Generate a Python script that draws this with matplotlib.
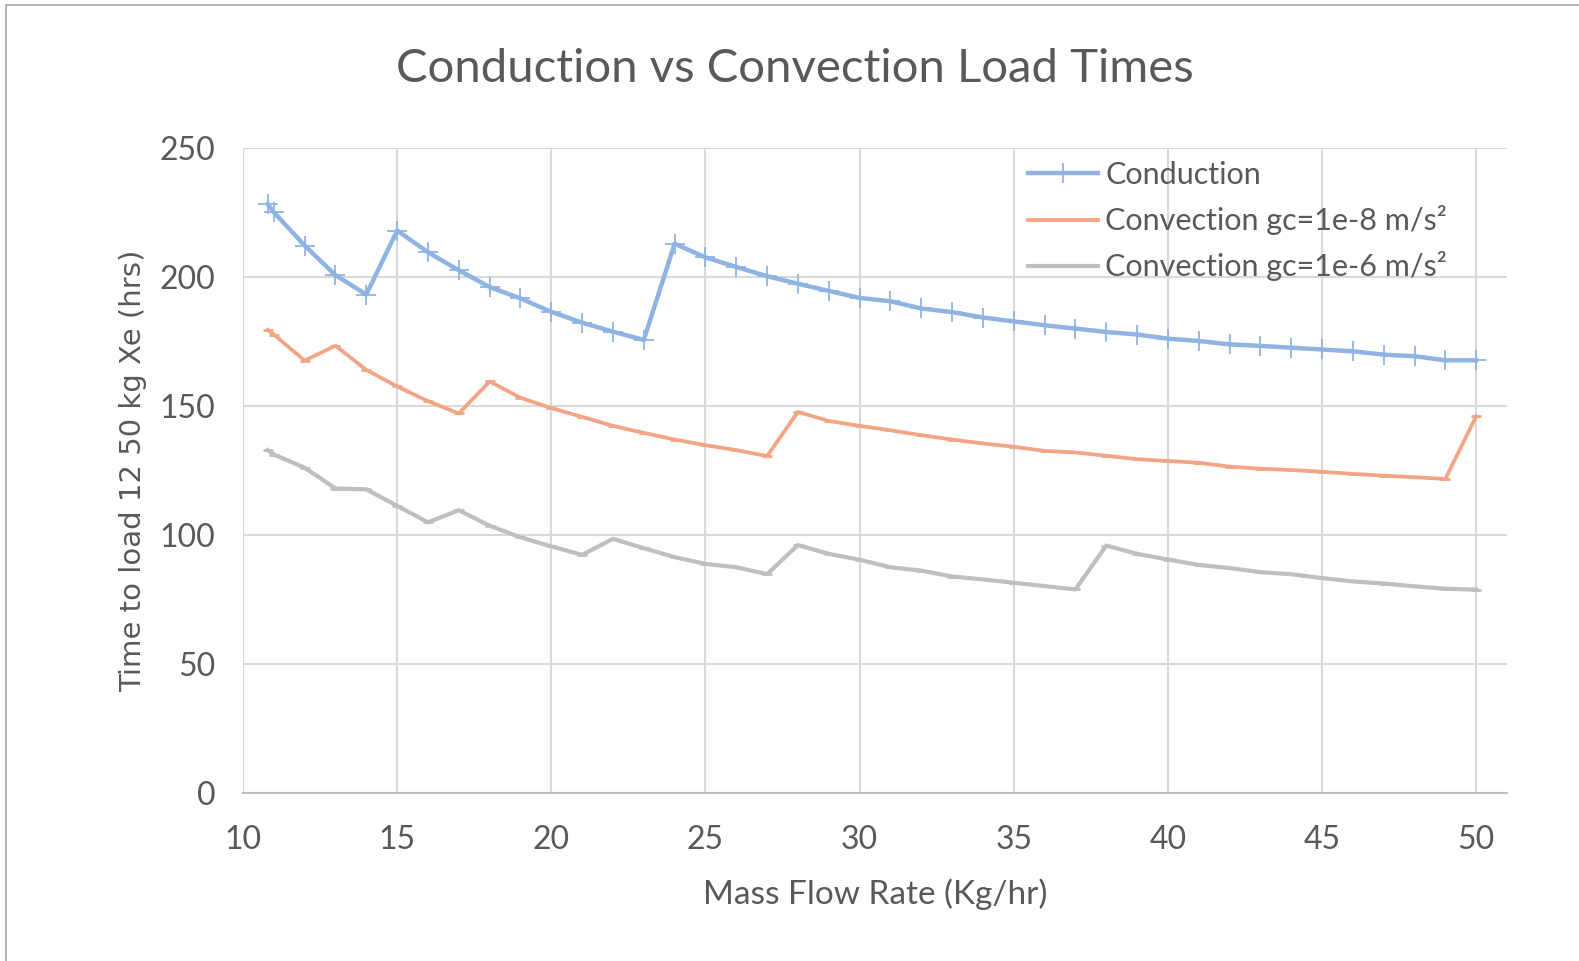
import matplotlib
matplotlib.use("Agg")
import matplotlib.pyplot as plt
from matplotlib.patches import Rectangle

flow = [10.8] + list(range(11, 51))

conduction = [228.3, 225.1, 212.2, 200.7, 193.2, 218.0, 209.6, 202.6, 196.1, 191.7,
              186.5, 182.3, 178.8, 175.6, 212.9, 207.6, 203.9, 200.3, 197.4, 194.6,
              191.9, 190.6, 187.8, 186.4, 184.3, 182.8, 181.3, 180.0, 178.7, 177.7,
              176.1, 175.2, 173.9, 173.3, 172.6, 171.9, 171.2, 169.9, 169.3, 167.7, 167.7]

conv_1e8 = [179.5, 177.7, 167.6, 173.4, 164.0, 157.6, 151.9, 147.1, 159.5, 153.2,
            149.2, 145.8, 142.3, 139.6, 137.0, 134.8, 132.9, 130.6, 147.7, 144.2,
            142.3, 140.6, 138.7, 137.0, 135.5, 134.2, 132.6, 132.0, 130.7, 129.4,
            128.7, 128.0, 126.5, 125.7, 125.2, 124.5, 123.7, 123.0, 122.4, 121.7, 146.0]

conv_1e6 = [132.9, 131.2, 126.1, 118.0, 117.7, 111.3, 104.9, 109.6, 103.6, 99.1,
            95.6, 92.3, 98.5, 94.9, 91.4, 88.8, 87.5, 84.8, 96.1, 92.7,
            90.4, 87.5, 86.2, 83.9, 82.8, 81.5, 80.2, 78.9, 95.9, 92.7,
            90.5, 88.4, 87.2, 85.6, 84.8, 83.3, 82.0, 81.2, 80.1, 79.2, 78.8]

labels = ["Conduction", "Convection gc=1e-8 m/s\u00b2", "Convection gc=1e-6 m/s\u00b2"]
x_ticks = [10, 15, 20, 25, 30, 35, 40, 45, 50]
y_ticks = [0, 50, 100, 150, 200, 250]

title = "Conduction vs Convection Load Times"
xlabel = "Mass Flow Rate (Kg/hr)"
ylabel = "Time to load 12 50 kg Xe (hrs)"

W, H = 1579, 961
fig = plt.figure(figsize=(W / 100, H / 100), dpi=100)
font = ["Lato", "DejaVu Sans"]
txt = "#595959"

ax = fig.add_axes([243 / W, 1 - 793 / H, (1507 - 243) / W, (793 - 148) / H])

blue = "#8FB4E3"
orange = "#F2A584"
gray = "#BFBFBF"

ax.plot(flow, conduction, color=blue, lw=3.2, marker="+", ms=14, mew=1.3, label=labels[0], zorder=4)
ax.plot(flow, conv_1e8, color=orange, lw=2.7, marker="_", ms=7, mew=2, label=labels[1], zorder=3)
ax.plot(flow, conv_1e6, color=gray, lw=3.0, marker="_", ms=7, mew=2, label=labels[2], zorder=3)

ax.set_xlim(10, 51)
ax.set_ylim(0, 250)
ax.set_xticks(x_ticks)
ax.set_yticks(y_ticks)
ax.grid(True, color="#D9D9D9", lw=1.5)
ax.set_axisbelow(True)
for s in ["top", "right", "left"]:
    ax.spines[s].set_visible(False)
ax.spines["bottom"].set_color("#BFBFBF")
ax.spines["bottom"].set_linewidth(1.5)
ax.tick_params(axis="x", length=0, labelsize=23, labelcolor=txt, pad=23)
ax.tick_params(axis="y", length=0, labelsize=23, labelcolor=txt, pad=20)
for lab in ax.get_xticklabels() + ax.get_yticklabels():
    lab.set_family(font)

fig.text(795 / W, 1 - 69 / H, title, fontsize=34, color=txt, family=font,
         ha="center", va="center")
ax.set_xlabel(xlabel, fontsize=24, color=txt, family=font, labelpad=17)
ax.set_ylabel(ylabel, fontsize=21, color=txt, family=["DejaVu Sans"], labelpad=9)

leg = ax.legend(loc="upper left", bbox_to_anchor=(1028 / W, 1 - 161 / H),
                bbox_transform=fig.transFigure, frameon=False,
                prop={"family": font, "size": 22}, labelcolor=txt,
                handlelength=2.3, handletextpad=0.23, labelspacing=0.53,
                borderaxespad=0, borderpad=0)
for h in leg.legend_handles:
    h.set_marker("")
leg.legend_handles[0].set_marker("|")
leg.legend_handles[0].set_markersize(14)

fig.patches.append(Rectangle((6 / W, -0.1), 1.2, (1 - 5 / H) + 0.1,
                             transform=fig.transFigure, fill=False,
                             edgecolor="#A6A6A6", lw=1.2))

fig.savefig("out.png", dpi=100)
